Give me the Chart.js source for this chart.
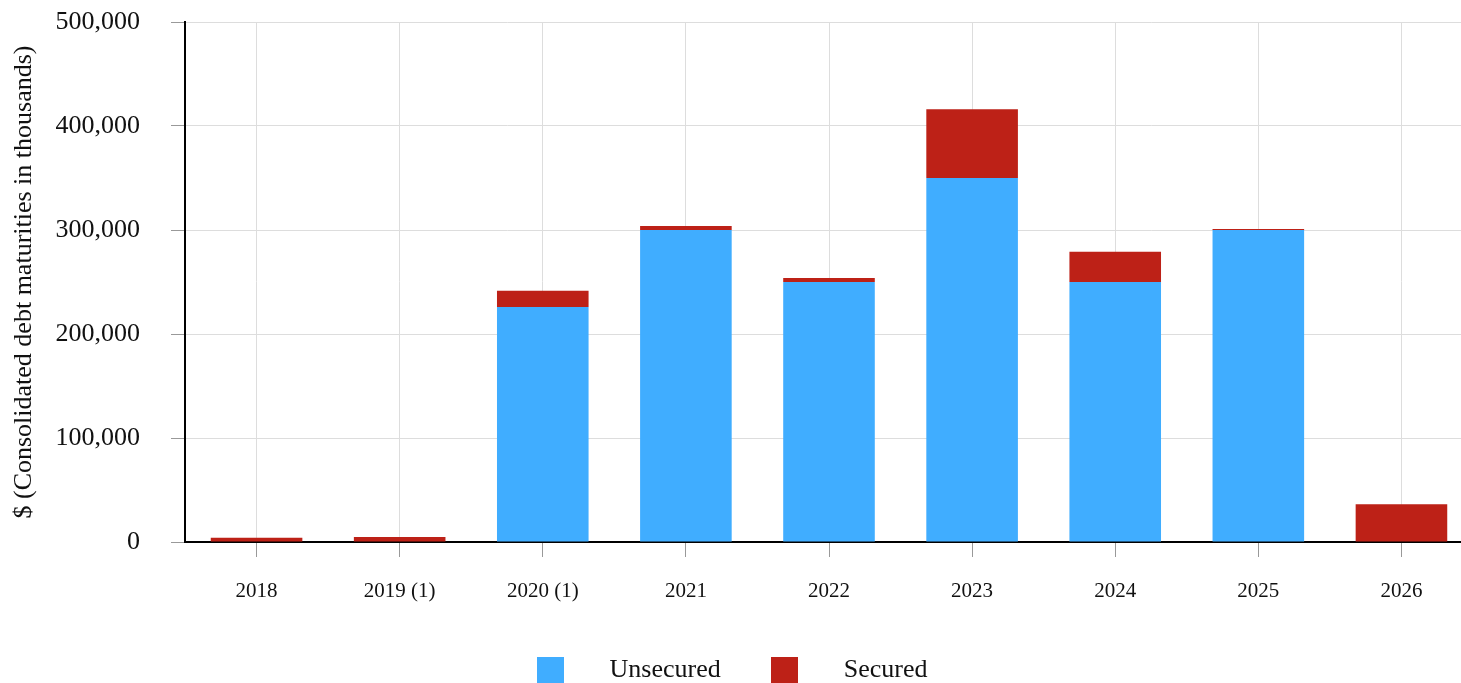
<!DOCTYPE html>
<html>
<head>
<meta charset="utf-8">
<title>Consolidated debt maturities</title>
<script src="https://cdn.jsdelivr.net/npm/chart.js@4.4.1/dist/chart.umd.min.js"></script>
<style>
  html, body { margin: 0; padding: 0; overflow: hidden; background: #fff; }
  canvas { display: block; }
</style>
</head>
<body>
<canvas id="debtChart" width="1473" height="693"></canvas>
<script>
// values in $ thousands
const years = ['2018', '2019 (1)', '2020 (1)', '2021', '2022', '2023', '2024', '2025', '2026'];
const unsecured = [0, 0, 226000, 300000, 250000, 350000, 250000, 300000, 0];
const secured = [4100, 4800, 15600, 3900, 3900, 66000, 29000, 1000, 36200];
const yTicks = [0, 100000, 200000, 300000, 400000, 500000];

(function () {
  const BLUE = '#40adff';
  const RED = '#bd2117';
  const GRID = '#dddddd';
  const TICK = '#999999';

  Chart.defaults.font.family = "'Liberation Serif', 'Times New Roman', serif";
  Chart.defaults.color = '#111';

  function swatch(color) {
    const c = document.createElement('canvas');
    c.width = 27;
    c.height = 27;
    const g = c.getContext('2d');
    g.fillStyle = color;
    g.fillRect(0, 0, 27, 27);
    return c;
  }

  const swatches = [swatch(BLUE), swatch(RED)];

  // the original legend sits a little left of the canvas centre
  const legendShift = {
    id: 'legendShift',
    afterLayout(chart) {
      if (chart.legend) chart.legend.right -= 42;
    }
  };

  const ctx = document.getElementById('debtChart').getContext('2d');
  new Chart(ctx, {
    type: 'bar',
    data: {
      labels: years,
      datasets: [
        { label: 'Unsecured', data: unsecured, backgroundColor: BLUE, borderWidth: 0 },
        { label: 'Secured', data: secured, backgroundColor: RED, borderWidth: 0 }
      ]
    },
    options: {
      responsive: false,
      animation: false,
      barPercentage: 0.64,
      categoryPercentage: 1,
      layout: { padding: { top: 22, right: 0, bottom: 0, left: 0 } },
      scales: {
        x: {
          stacked: true,
          offset: true,
          grid: { offset: false, color: GRID, tickColor: TICK, tickLength: 15 },
          border: { color: '#000', width: 2 },
          ticks: { font: { size: 21 }, padding: 22, maxRotation: 0 },
          afterFit: (scale) => { scale.height = 98; }
        },
        y: {
          stacked: true,
          min: 0,
          max: 500000,
          afterBuildTicks: (scale) => { scale.ticks = yTicks.map(v => ({ value: v })); },
          grid: { color: GRID, tickColor: TICK, tickLength: 14 },
          border: { color: '#000', width: 2 },
          ticks: {
            font: { size: 26 },
            padding: 31,
            callback: (v) => Number(v).toLocaleString('en-US')
          },
          title: {
            display: true,
            text: '$ (Consolidated debt maturities in thousands)',
            font: { size: 26 },
            padding: { top: 9, bottom: 0 }
          },
          afterFit: (scale) => {
            scale.width = 185;
            scale.paddingTop = 0;
            scale.paddingBottom = 0;
          }
        }
      },
      plugins: {
        tooltip: { enabled: false },
        legend: {
          position: 'bottom',
          labels: {
            font: { size: 26 },
            color: '#111',
            usePointStyle: true,
            pointStyleWidth: 93,
            padding: 17,
            generateLabels: (chart) => {
              const items = Chart.defaults.plugins.legend.labels.generateLabels(chart);
              items.forEach((it, i) => { it.pointStyle = swatches[i]; });
              return items;
            }
          }
        }
      }
    },
    plugins: [legendShift]
  });
})();
</script>
</body>
</html>
